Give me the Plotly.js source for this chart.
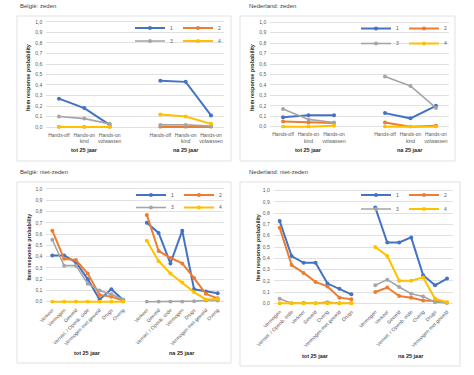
<!DOCTYPE html>
<html><head><meta charset="utf-8">
<script src="https://cdn.plot.ly/plotly-3.0.1.min.js"></script>
<style>html,body{margin:0;padding:0;background:#fff;}#chart{width:474px;height:375px;}</style>
</head><body><div id="chart"></div>
<script>
// ---------- data ----------
const seriesNames = ['1', '2', '3', '4'];
const groupLabels = ['tot 25 jaar', 'na 25 jaar'];
const panelTitles = ['België: zeden', 'Nederland: zeden', 'België: niet-zeden', 'Nederland: niet-zeden'];
const yTitle = 'Item response probability';

const zedenCats = ['Hands-off', 'Hands-on<br>kind', 'Hands-on<br>volwassen'];
const beNietTotCats = ['Verkeer', 'Vermogen', 'Geweld', 'Verniel. / Openb. orde', 'Vermogen met geweld', 'Drugs', 'Overig'];
const beNietNaCats  = ['Verkeer', 'Geweld', 'Verniel. / Openb. orde', 'Vermogen', 'Drugs', 'Vermogen met geweld', 'Overig'];
const nlNietTotCats = ['Vermogen', 'Verniel. / Openb. orde', 'Verkeer', 'Geweld', 'Overig', 'Vermogen met geweld', 'Drugs'];
const nlNietNaCats  = ['Vermogen', 'Verkeer', 'Geweld', 'Verniel. / Openb. orde', 'Overig', 'Drugs', 'Vermogen met geweld'];

// rows = series 1..4
const beZedenTot = [
  [0.27, 0.18, 0.02],
  [0.00, 0.00, 0.00],
  [0.10, 0.08, 0.03],
  [0.00, 0.00, 0.00]
];
const beZedenNa = [
  [0.44, 0.43, 0.11],
  [0.00, 0.00, 0.00],
  [0.02, 0.02, 0.01],
  [0.12, 0.10, 0.03]
];
const nlZedenTot = [
  [0.09, 0.11, 0.11],
  [0.05, 0.04, 0.035],
  [0.17, 0.07, 0.04],
  [0.00, 0.00, 0.01]
];
const nlZedenNa = [
  [0.13, 0.08, 0.20],
  [0.04, 0.00, 0.01],
  [0.48, 0.39, 0.18],
  [0.00, 0.00, 0.00]
];
const beNietTot = [
  [0.41, 0.41, 0.35, 0.20, 0.02, 0.11, 0.015],
  [0.63, 0.38, 0.37, 0.25, 0.06, 0.045, 0.01],
  [0.55, 0.32, 0.32, 0.16, 0.10, 0.065, 0.02],
  [0.00, 0.00, 0.00, 0.00, 0.00, 0.00, 0.00]
];
const beNietNa = [
  [0.70, 0.61, 0.34, 0.63, 0.11, 0.09, 0.075],
  [0.77, 0.45, 0.39, 0.34, 0.21, 0.07, 0.03],
  [0.00, 0.00, 0.00, 0.00, 0.005, 0.01, 0.01],
  [0.54, 0.36, 0.25, 0.17, 0.085, 0.02, 0.025]
];
const nlNietTot = [
  [0.73, 0.42, 0.36, 0.36, 0.175, 0.13, 0.08],
  [0.67, 0.34, 0.27, 0.19, 0.15, 0.05, 0.035],
  [0.04, 0.00, 0.005, 0.00, 0.01, 0.00, 0.00],
  [0.00, 0.00, 0.00, 0.00, 0.00, 0.00, 0.00]
];
const nlNietNa = [
  [0.85, 0.54, 0.54, 0.585, 0.25, 0.16, 0.22],
  [0.10, 0.14, 0.065, 0.05, 0.025, 0.02, 0.005],
  [0.16, 0.21, 0.145, 0.085, 0.06, 0.01, 0.005],
  [0.50, 0.42, 0.20, 0.20, 0.23, 0.04, 0.01]
];

// ---------- styles ----------
const colors = ['#4472C4', '#ED7D31', '#A5A5A5', '#FFC000'];
const lineWidths = [2, 2, 1.6, 2];
const W = 474, H = 375;
const fx = p => p / W;
const fy = p => 1 - p / H;
const gridCol = '#d9d9d9';
const tickCol = '#595959';
const FONT = 'Liberation Sans, Arial, sans-serif';

const panels = [
  {tot: beZedenTot, na: beZedenNa, totCats: zedenCats, naCats: zedenCats, angle: 0,
   xd: [46.3, 223.7], y0: 127, y1: 22, box: [17, 16, 231, 161], title: [18, 6], ytx: 28, yty: 77,
   grpY: 150, legX: 130, legY: [28, 41]},
  {tot: nlZedenTot, na: nlZedenNa, totCats: zedenCats, naCats: zedenCats, angle: 0,
   xd: [270.3, 448.7], y0: 126.7, y1: 22.3, box: [240, 16, 455, 161], title: [247, 6], ytx: 252, yty: 77,
   grpY: 150, legX: 356, legY: [28.5, 43.5]},
  {tot: beNietTot, na: beNietNa, totCats: beNietTotCats, naCats: beNietNaCats, angle: -45,
   xd: [46.4, 223.6], y0: 301.7, y1: 189, box: [17, 182, 231, 363], title: [18, 172], ytx: 28.5, yty: 247,
   grpY: 353, legX: 131, legY: [195, 207.5]},
  {tot: nlNietTot, na: nlNietNa, totCats: nlNietTotCats, naCats: nlNietNaCats, angle: -45,
   xd: [273.7, 453], y0: 303.3, y1: 190.7, box: [240, 182, 460, 366], title: [247, 172], ytx: 258, yty: 247,
   grpY: 356, legX: 356, legY: [195, 209]}
];

const data = [];
const layout = {
  width: W, height: H,
  margin: {l: 0, r: 0, t: 0, b: 0},
  paper_bgcolor: '#ffffff', plot_bgcolor: 'rgba(0,0,0,0)',
  separators: ',.',
  font: {family: FONT, color: tickCol},
  showlegend: true,
  annotations: [], shapes: []
};

const pad = 0.015;
panels.forEach((p, k) => {
  const n = p.totCats.length;
  const sfx = k === 0 ? '' : String(k + 1);
  const xa = 'x' + sfx, ya = 'y' + sfx;
  const xs = [];
  for (let i = 0; i < 2 * n + 1; i++) xs.push(i);
  const tickvals = [], ticktext = [];
  p.totCats.forEach((c, i) => { tickvals.push(i); ticktext.push(c); });
  p.naCats.forEach((c, i) => { tickvals.push(n + 1 + i); ticktext.push(c); });

  const legA = 'legend' + (k === 0 ? '' : String(2 * k + 1));
  const legB = 'legend' + String(2 * k + 2);

  for (let s = 0; s < 4; s++) {
    const ys = p.tot[s].concat([null], p.na[s]);
    data.push({
      type: 'scatter', mode: 'lines+markers',
      x: xs, y: ys, xaxis: xa, yaxis: ya,
      name: seriesNames[s],
      legend: s < 2 ? legA : legB,
      connectgaps: false,
      line: {color: colors[s], width: lineWidths[s]},
      marker: {color: colors[s], size: 4, symbol: 'circle'},
      hoverinfo: 'skip'
    });
  }

  const scale = p.y0 - p.y1;
  const yDomTopPx = p.y1 - pad * scale;
  const yDomBotPx = p.y0 + pad * scale;

  layout['xaxis' + sfx] = {
    domain: [fx(p.xd[0]), fx(p.xd[1])],
    anchor: ya, range: [-0.5, 2 * n + 0.5],
    tickmode: 'array', tickvals: tickvals, ticktext: ticktext,
    tickangle: p.angle, showgrid: false, zeroline: false, showline: false,
    ticks: '', ticklabelstandoff: 2,
    tickfont: {size: 5, color: tickCol, family: FONT}, fixedrange: true
  };
  layout['yaxis' + sfx] = {
    domain: [fy(yDomBotPx), fy(yDomTopPx)],
    anchor: xa, range: [-pad, 1 + pad],
    tickmode: 'linear', tick0: 0, dtick: 0.1, tickformat: '.1f',
    showgrid: true, gridcolor: gridCol, gridwidth: 0.8,
    zeroline: false, showline: false, ticks: '', ticklabelstandoff: 3,
    tickfont: {size: 5, color: tickCol, family: FONT}, fixedrange: true
  };

  // legends (two rows per panel)
  [legA, legB].forEach((lg, r) => {
    layout[lg] = {
      orientation: 'h', x: fx(p.legX), y: fy(p.legY[r]),
      xanchor: 'left', yanchor: 'middle',
      bgcolor: 'rgba(0,0,0,0)', borderwidth: 0,
      font: {size: 5, color: tickCol, family: FONT},
      itemwidth: 30, tracegroupgap: 0
    };
  });

  // panel box
  layout.shapes.push({
    type: 'rect', xref: 'paper', yref: 'paper', layer: 'below',
    x0: fx(p.box[0]), x1: fx(p.box[2]), y0: fy(p.box[1]), y1: fy(p.box[3]),
    line: {color: gridCol, width: 0.8}, fillcolor: 'rgba(0,0,0,0)'
  });

  // panel title
  layout.annotations.push({
    xref: 'paper', yref: 'paper', x: fx(p.title[0]), y: fy(p.title[1]),
    xanchor: 'left', yanchor: 'middle', showarrow: false,
    text: panelTitles[k], font: {size: 6, color: '#404040', family: FONT}
  });
  // y-axis title
  layout.annotations.push({
    xref: 'paper', yref: 'paper', x: fx(p.ytx), y: fy(p.yty),
    xanchor: 'center', yanchor: 'middle', showarrow: false, textangle: -90,
    text: '<b>' + yTitle + '</b>', font: {size: 5.5, color: '#262626', family: FONT}
  });
  // group labels
  [(n - 1) / 2, n + 1 + (n - 1) / 2].forEach((gx, g) => {
    layout.annotations.push({
      xref: xa, yref: 'paper', x: gx, y: fy(p.grpY),
      xanchor: 'center', yanchor: 'middle', showarrow: false,
      text: '<b>' + groupLabels[g] + '</b>', font: {size: 5.5, color: '#262626', family: FONT}
    });
  });
});

Plotly.newPlot('chart', data, layout, {staticPlot: true, displayModeBar: false});
</script></body></html>
